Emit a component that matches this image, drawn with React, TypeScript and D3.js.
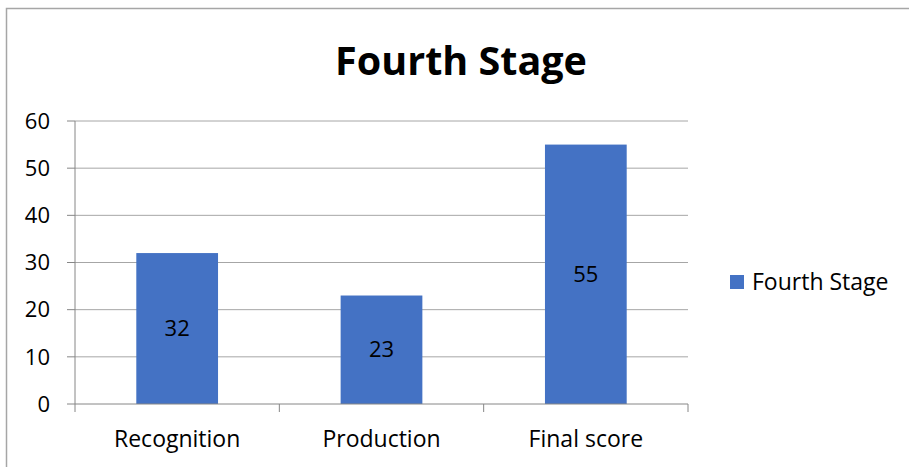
import { useEffect, useRef } from 'react';
import * as d3 from 'd3';

const categories = ['Recognition', 'Production', 'Final score'];
const values = [32, 23, 55];
const yTicks = [0, 10, 20, 30, 40, 50, 60];
const seriesName = 'Fourth Stage';
const chartTitle = 'Fourth Stage';

const W = 909;
const H = 467;
const FONT = "'Open Sans', 'Noto Sans', sans-serif";

export default function App() {
  const svgRef = useRef<SVGSVGElement>(null);

  useEffect(() => {
    if (!svgRef.current) return;
    const svg = d3.select(svgRef.current);
    svg.selectAll('*').remove();

    const plot = { left: 75, right: 688, top: 121, bottom: 404 };

    // outer frame
    svg.append('rect')
      .attr('x', 6.5).attr('y', 8.5)
      .attr('width', W + 10).attr('height', H + 10)
      .attr('fill', 'white')
      .attr('stroke', '#a6a6a6')
      .attr('stroke-width', 1.5);

    const x = d3.scaleBand<string>()
      .domain(categories)
      .range([plot.left, plot.right])
      .paddingInner(0.6)
      .paddingOuter(0.3);

    const y = d3.scaleLinear().domain([0, 60]).range([plot.bottom, plot.top]);

    // gridlines
    svg.append('g')
      .selectAll('line')
      .data(yTicks.filter(t => t > 0))
      .join('line')
      .attr('x1', plot.left).attr('x2', plot.right)
      .attr('y1', d => y(d)).attr('y2', d => y(d))
      .attr('stroke', '#a6a6a6').attr('stroke-width', 1);

    // y tick marks + labels
    svg.append('g')
      .selectAll('line')
      .data(yTicks)
      .join('line')
      .attr('x1', plot.left - 8).attr('x2', plot.left)
      .attr('y1', d => y(d)).attr('y2', d => y(d))
      .attr('stroke', '#868686');

    svg.append('g')
      .selectAll('text')
      .data(yTicks)
      .join('text')
      .attr('x', 50)
      .attr('y', d => y(d))
      .attr('dy', '0.35em')
      .attr('text-anchor', 'end')
      .attr('font-family', FONT)
      .attr('font-size', 22)
      .attr('fill', '#000')
      .text(d => d);

    // bars
    svg.append('g')
      .selectAll('rect')
      .data(values)
      .join('rect')
      .attr('x', (d, i) => x(categories[i])!)
      .attr('width', x.bandwidth())
      .attr('y', d => y(d))
      .attr('height', d => y(0) - y(d))
      .attr('fill', '#4472c4');

    // data labels
    svg.append('g')
      .selectAll('text')
      .data(values)
      .join('text')
      .attr('x', (d, i) => x(categories[i])! + x.bandwidth() / 2)
      .attr('y', d => (y(d) + y(0)) / 2)
      .attr('dy', '0.35em')
      .attr('text-anchor', 'middle')
      .attr('font-family', FONT)
      .attr('font-size', 22)
      .attr('fill', '#000')
      .text(d => d);

    // axes lines
    svg.append('line')
      .attr('x1', plot.left).attr('x2', plot.left)
      .attr('y1', plot.top).attr('y2', plot.bottom)
      .attr('stroke', '#868686');
    svg.append('line')
      .attr('x1', plot.left).attr('x2', plot.right)
      .attr('y1', plot.bottom).attr('y2', plot.bottom)
      .attr('stroke', '#868686');

    // x category boundary ticks
    const step = (plot.right - plot.left) / categories.length;
    svg.append('g')
      .selectAll('line')
      .data(d3.range(categories.length + 1))
      .join('line')
      .attr('x1', i => plot.left + i * step).attr('x2', i => plot.left + i * step)
      .attr('y1', plot.bottom).attr('y2', plot.bottom + 8)
      .attr('stroke', '#868686');

    // category labels
    svg.append('g')
      .selectAll('text')
      .data(categories)
      .join('text')
      .attr('x', d => x(d)! + x.bandwidth() / 2)
      .attr('y', 439)
      .attr('dy', '0.35em')
      .attr('text-anchor', 'middle')
      .attr('font-family', FONT)
      .attr('font-size', 23)
      .attr('fill', '#000')
      .text(d => d);

    // title
    svg.append('text')
      .attr('x', 461)
      .attr('y', 61)
      .attr('dy', '0.35em')
      .attr('text-anchor', 'middle')
      .attr('font-family', FONT)
      .attr('font-weight', 'bold')
      .attr('font-size', 39.5)
      .attr('fill', '#000')
      .text(chartTitle);

    // legend
    svg.append('rect')
      .attr('x', 730).attr('y', 275)
      .attr('width', 14).attr('height', 14)
      .attr('fill', '#4472c4');
    svg.append('text')
      .attr('x', 752)
      .attr('y', 282)
      .attr('dy', '0.35em')
      .attr('font-family', FONT)
      .attr('font-size', 23)
      .attr('fill', '#000')
      .text(seriesName);
  }, []);

  return (
    <svg
      ref={svgRef}
      width={W}
      height={H}
      style={{ position: 'absolute', left: 0, top: 0, background: 'white' }}
    />
  );
}
